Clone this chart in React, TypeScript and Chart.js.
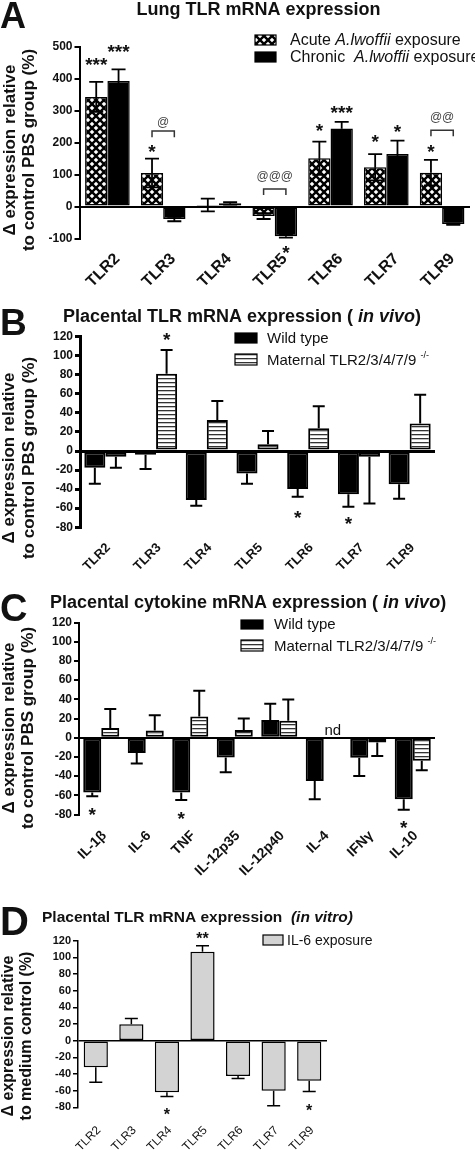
import React, { useEffect, useRef } from 'react';
import { Chart, registerables } from 'chart.js';

Chart.register(...registerables);

const FAMILY = '"Liberation Sans", Arial, Helvetica, sans-serif';
const f = (size: number, weight = 'normal', style = 'normal') => `${style} ${weight} ${size}px ${FAMILY}`;

// ---------- Panel A: Lung TLR mRNA expression ----------
const aLabels = ['TLR2', 'TLR3', 'TLR4', 'TLR5', 'TLR6', 'TLR7', 'TLR9'];
const aAcute = [343, 105, 5, -30, 151, 123, 106];
const aAcuteSem = [47, 45, 20, 9, 52, 41, 40];
const aChronic = [393, -39, 10, -93, 244, 164, -55];
const aChronicSem = [36, 7, 4, 4, 21, 42, 2];
const aYTicks = [-100, 0, 100, 200, 300, 400, 500];
const aStars = [
  { ds: 0, cat: 0, y: 458, t: '***' },
  { ds: 1, cat: 0, y: 499, t: '***' },
  { ds: 0, cat: 1, y: 186, t: '*' },
  { ds: 1, cat: 3, y: -130, t: '*' },
  { ds: 0, cat: 4, y: 252, t: '*' },
  { ds: 1, cat: 4, y: 308, t: '***' },
  { ds: 0, cat: 5, y: 217, t: '*' },
  { ds: 1, cat: 5, y: 249, t: '*' },
  { ds: 0, cat: 6, y: 186, t: '*' },
];
const aBrackets = [
  { cat: 1, y: 236, leg: 217, textY: 264, t: '@' },
  { cat: 3, y: 55, leg: 36, textY: 96, t: '@@@' },
  { cat: 6, y: 239, leg: 220, textY: 280, t: '@@' },
];

// ---------- Panel B: Placental TLR mRNA expression (in vivo) ----------
const bLabels = ['TLR2', 'TLR3', 'TLR4', 'TLR5', 'TLR6', 'TLR7', 'TLR9'];
const bWild = [-17.5, -4, -51.5, -23.5, -40, -45.5, -35];
const bWildSem = [17, 15, 6, 11, 8, 13, 15];
const bKO = [-6, 81, 32.5, 7, 24, -6, 29];
const bKOSem = [11.5, 25, 20, 14, 23, 49, 30];
const bYTicks = [-80, -60, -40, -20, 0, 20, 40, 60, 80, 100, 120];
const bStars = [
  { ds: 1, cat: 1, y: 122, t: '*' },
  { ds: 0, cat: 4, y: -65, t: '*' },
  { ds: 0, cat: 5, y: -72, t: '*' },
];

// ---------- Panel C: Placental cytokine mRNA expression (in vivo) ----------
const cLabels = ['IL-1β', 'IL-6', 'TNF', 'IL-12p35', 'IL-12p40', 'IL-4', 'IFNγ', 'IL-10'];
const cWild = [-57, -16, -57, -20.5, 18.4, -45, -21, -64];
const cWildSem = [4, 11, 8, 15.5, 17, 19, 19, 11];
const cKO: (number | null)[] = [10, 7.4, 22, 8, 17.7, null, -5, -24];
const cKOSem = [20, 16, 27, 12, 22, 0, 14, 10];
const cYTicks = [-80, -60, -40, -20, 0, 20, 40, 60, 80, 100, 120];
const cStars = [
  { ds: 0, cat: 0, y: -75, t: '*' },
  { ds: 0, cat: 2, y: -79.5, t: '*' },
  { ds: 0, cat: 7, y: -89, t: '*' },
];
const cNotes = [{ ds: 1, cat: 5, y: 8, t: 'nd' }];

// ---------- Panel D: Placental TLR mRNA expression (in vitro) ----------
const dLabels = ['TLR2', 'TLR3', 'TLR4', 'TLR5', 'TLR6', 'TLR7', 'TLR9'];
const dIL6 = [-32, 19.7, -62, 106.8, -42.4, -60, -48];
const dIL6Sem = [18, 7, 5, 7, 3, 18, 13];
const dYTicks = [-80, -60, -40, -20, 0, 20, 40, 60, 80, 100, 120];
const dStars = [
  { ds: 0, cat: 3, y: 127, t: '**' },
  { ds: 0, cat: 2, y: -84, t: '*' },
  { ds: 0, cat: 6, y: -80, t: '*' },
];

type Seg = { t: string; font: string; dy?: number };
type Series = { label: string; data: (number | null)[]; sem: number[]; fill: string };
type Note = { ds: number; cat: number; y: number; t: string };
type Bracket = { cat: number; y: number; leg: number; textY: number; t: string };
type LegendItem = { fill: string; box: [number, number, number, number]; x: number; y: number; segs: Seg[] };

interface PanelCfg {
  top: number;
  W: number;
  H: number;
  area: { left: number; top: number; right: number; bottom: number };
  labels: string[];
  yTicks: number[];
  series: Series[];
  errBoth: boolean;
  catPct: number;
  barPct: number;
  barBorder: number;
  axisWidth: number;
  errWidth: number;
  cap: number;
  tickFont: number;
  xSize: number;
  xWeight: string;
  xPad: number;
  xOffset: number;
  stars: Note[];
  starSize: number;
  notes: Note[];
  brackets: Bracket[];
  letter: { t: string; size: number; x: number; y: number };
  title: { segs: Seg[]; x: number; y: number; center: boolean };
  yTitle: { lines: string[]; xs: number[]; cy: number; size: number };
  legend: LegendItem[];
}

function makeCross(ctx: CanvasRenderingContext2D): CanvasPattern | string {
  const c = document.createElement('canvas');
  c.width = 8;
  c.height = 8;
  const g = c.getContext('2d');
  if (!g) return '#000';
  g.fillStyle = '#000';
  g.fillRect(0, 0, 8, 8);
  g.fillStyle = '#fff';
  const dia = (cx: number, cy: number, r: number) => {
    g.beginPath();
    g.moveTo(cx, cy - r);
    g.lineTo(cx + r, cy);
    g.lineTo(cx, cy + r);
    g.lineTo(cx - r, cy);
    g.closePath();
    g.fill();
  };
  [[4, 4], [0, 0], [8, 0], [0, 8], [8, 8]].forEach(([x, y]) => dia(x, y, 2.3));
  return ctx.createPattern(c, 'repeat') || '#000';
}

function makeStripes(ctx: CanvasRenderingContext2D): CanvasPattern | string {
  const c = document.createElement('canvas');
  c.width = 4;
  c.height = 4;
  const g = c.getContext('2d');
  if (!g) return '#fff';
  g.fillStyle = '#fff';
  g.fillRect(0, 0, 4, 4);
  g.fillStyle = '#333';
  g.fillRect(0, 0, 4, 1.3);
  return ctx.createPattern(c, 'repeat') || '#fff';
}

function drawSegs(ctx: CanvasRenderingContext2D, segs: Seg[], x: number, y: number, center: boolean) {
  const widths = segs.map((s) => {
    ctx.font = s.font;
    return ctx.measureText(s.t).width;
  });
  const total = widths.reduce((a, b) => a + b, 0);
  let cx = center ? x - total / 2 : x;
  ctx.textAlign = 'left';
  ctx.textBaseline = 'alphabetic';
  segs.forEach((s, i) => {
    ctx.font = s.font;
    ctx.fillText(s.t, cx, y + (s.dy || 0));
    cx += widths[i];
  });
}

function Panel({ cfg }: { cfg: PanelCfg }) {
  const ref = useRef<HTMLCanvasElement>(null);
  useEffect(() => {
    const canvas = ref.current;
    if (!canvas) return;
    const c2 = canvas.getContext('2d');
    if (!c2) return;
    const pats: Record<string, CanvasPattern | string> = {
      cross: makeCross(c2),
      stripes: makeStripes(c2),
    };
    const fillOf = (k: string) => (pats[k] !== undefined ? pats[k] : k);

    const plugin = {
      id: 'panelDecor',
      afterDatasetsDraw(chart: any) {
        const ctx: CanvasRenderingContext2D = chart.ctx;
        const ys = chart.scales.y;
        ctx.save();
        ctx.strokeStyle = '#000';
        ctx.lineWidth = cfg.errWidth;
        cfg.series.forEach((s, di) => {
          const meta = chart.getDatasetMeta(di);
          s.data.forEach((v, i) => {
            if (v === null || v === undefined) return;
            const sem = s.sem[i];
            const x = meta.data[i].x;
            const ends = cfg.errBoth ? [v + sem, v - sem] : [v >= 0 ? v + sem : v - sem];
            const p0 = ys.getPixelForValue(v);
            ends.forEach((e) => {
              const p1 = ys.getPixelForValue(e);
              ctx.beginPath();
              ctx.moveTo(x, p0);
              ctx.lineTo(x, p1);
              ctx.moveTo(x - cfg.cap / 2, p1);
              ctx.lineTo(x + cfg.cap / 2, p1);
              ctx.stroke();
            });
          });
        });
        ctx.restore();
      },
      afterDraw(chart: any) {
        const ctx: CanvasRenderingContext2D = chart.ctx;
        const ys = chart.scales.y;
        ctx.save();
        ctx.fillStyle = '#111';
        ctx.textAlign = 'center';
        ctx.textBaseline = 'alphabetic';
        cfg.stars.forEach((m) => {
          const x = chart.getDatasetMeta(m.ds).data[m.cat].x;
          ctx.font = f(cfg.starSize, 'bold');
          ctx.fillText(m.t, x, ys.getPixelForValue(m.y) + cfg.starSize * 0.57);
        });
        cfg.notes.forEach((m) => {
          const x = chart.getDatasetMeta(m.ds).data[m.cat].x;
          ctx.font = f(15);
          ctx.fillText(m.t, x, ys.getPixelForValue(m.y) + 5);
        });
        cfg.brackets.forEach((b) => {
          const x0 = chart.getDatasetMeta(0).data[b.cat].x;
          const x1 = chart.getDatasetMeta(1).data[b.cat].x;
          const py = ys.getPixelForValue(b.y);
          const pl = ys.getPixelForValue(b.leg);
          ctx.strokeStyle = '#333';
          ctx.lineWidth = 1.5;
          ctx.beginPath();
          ctx.moveTo(x0, pl);
          ctx.lineTo(x0, py);
          ctx.lineTo(x1, py);
          ctx.lineTo(x1, pl);
          ctx.stroke();
          ctx.fillStyle = '#444';
          ctx.font = f(12);
          ctx.textAlign = 'center';
          ctx.fillText(b.t, (x0 + x1) / 2, ys.getPixelForValue(b.textY) + 4);
          ctx.fillStyle = '#111';
        });
        ctx.font = f(cfg.letter.size, 'bold');
        ctx.textAlign = 'left';
        ctx.fillText(cfg.letter.t, cfg.letter.x, cfg.letter.y);
        drawSegs(ctx, cfg.title.segs, cfg.title.x, cfg.title.y, cfg.title.center);
        ctx.font = f(cfg.yTitle.size, 'bold');
        cfg.yTitle.lines.forEach((line, i) => {
          ctx.save();
          ctx.translate(cfg.yTitle.xs[i], cfg.yTitle.cy);
          ctx.rotate(-Math.PI / 2);
          ctx.textAlign = 'center';
          ctx.textBaseline = 'alphabetic';
          ctx.fillText(line, 0, 0);
          ctx.restore();
        });
        cfg.legend.forEach((it) => {
          const [bx, by, bw, bh] = it.box;
          ctx.fillStyle = fillOf(it.fill) as any;
          ctx.fillRect(bx, by, bw, bh);
          ctx.strokeStyle = '#000';
          ctx.lineWidth = 1.2;
          ctx.strokeRect(bx, by, bw, bh);
          ctx.fillStyle = '#111';
          drawSegs(ctx, it.segs, it.x, it.y, false);
        });
        ctx.restore();
      },
    };

    const { area, W, H } = cfg;
    const chart = new Chart(canvas, {
      type: 'bar',
      data: {
        labels: cfg.labels,
        datasets: cfg.series.map((s) => ({
          label: s.label,
          data: s.data,
          backgroundColor: fillOf(s.fill) as any,
          borderColor: '#000',
          borderWidth: cfg.barBorder,
          borderSkipped: false,
          categoryPercentage: cfg.catPct,
          barPercentage: cfg.barPct,
        })),
      },
      options: {
        responsive: false,
        animation: false,
        devicePixelRatio: 1,
        layout: { padding: { top: area.top, left: 0, right: W - area.right, bottom: 0 } },
        plugins: { legend: { display: false }, tooltip: { enabled: false }, title: { display: false } },
        scales: {
          x: {
            type: 'category',
            grid: { display: false, drawTicks: false },
            border: { display: false },
            ticks: {
              autoSkip: false,
              minRotation: 45,
              maxRotation: 45,
              padding: cfg.xPad,
              labelOffset: cfg.xOffset,
              color: '#111',
              font: { family: FAMILY, size: cfg.xSize, weight: cfg.xWeight as any },
            },
            afterFit: (s: any) => {
              s.height = H - area.bottom;
            },
          },
          y: {
            type: 'linear',
            min: cfg.yTicks[0],
            max: cfg.yTicks[cfg.yTicks.length - 1],
            afterBuildTicks: (s: any) => {
              s.ticks = cfg.yTicks.map((v) => ({ value: v }));
            },
            afterFit: (s: any) => {
              s.width = area.left;
            },
            border: { display: true, color: '#000', width: cfg.axisWidth },
            grid: {
              drawTicks: true,
              tickLength: 5,
              tickColor: '#000',
              tickWidth: cfg.axisWidth,
              color: (c: any) => (c.tick && c.tick.value === 0 ? '#000' : 'rgba(0,0,0,0)'),
              lineWidth: cfg.axisWidth,
            },
            ticks: {
              color: '#111',
              padding: 2,
              font: { family: FAMILY, size: cfg.tickFont, weight: 'bold' },
            },
          },
        },
      },
      plugins: [plugin],
    });
    return () => chart.destroy();
  }, []);
  return (
    <canvas
      ref={ref}
      width={cfg.W}
      height={cfg.H}
      style={{ position: 'absolute', left: 0, top: cfg.top, width: cfg.W, height: cfg.H, display: 'block' }}
    />
  );
}

const panelA: PanelCfg = {
  top: 0,
  W: 475,
  H: 290,
  area: { left: 79.5, top: 46.7, right: 470, bottom: 238.5 },
  labels: aLabels,
  yTicks: aYTicks,
  series: [
    { label: 'Acute A.lwoffii exposure', data: aAcute, sem: aAcuteSem, fill: 'cross' },
    { label: 'Chronic A.lwoffii exposure', data: aChronic, sem: aChronicSem, fill: '#000' },
  ],
  errBoth: true,
  catPct: 0.8,
  barPct: 1,
  barBorder: 1.5,
  axisWidth: 2,
  errWidth: 1.8,
  cap: 14,
  tickFont: 12,
  xSize: 16,
  xWeight: 'bold',
  xPad: 11,
  xOffset: 10,
  stars: aStars,
  starSize: 19,
  notes: [],
  brackets: aBrackets,
  letter: { t: 'A', size: 36, x: 0, y: 28 },
  title: { segs: [{ t: 'Lung TLR mRNA expression', font: f(18, 'bold') }], x: 258.5, y: 15, center: true },
  yTitle: { lines: ['Δ expression relative', 'to control PBS group (%)'], xs: [14.5, 34], cy: 150, size: 17 },
  legend: [
    {
      fill: 'cross',
      box: [255, 35, 21, 10],
      x: 290,
      y: 45,
      segs: [
        { t: 'Acute ', font: f(16) },
        { t: 'A.lwoffii', font: f(16, 'normal', 'italic') },
        { t: ' exposure', font: f(16) },
      ],
    },
    {
      fill: '#000',
      box: [255, 52, 21, 10],
      x: 290,
      y: 62,
      segs: [
        { t: 'Chronic  ', font: f(16) },
        { t: 'A.lwoffii', font: f(16, 'normal', 'italic') },
        { t: ' exposure', font: f(16) },
      ],
    },
  ],
};

const panelB: PanelCfg = {
  top: 290,
  W: 475,
  H: 282,
  area: { left: 80, top: 46.7, right: 435, bottom: 237.2 },
  labels: bLabels,
  yTicks: bYTicks,
  series: [
    { label: 'Wild type', data: bWild, sem: bWildSem, fill: '#000' },
    { label: 'Maternal TLR2/3/4/7/9 -/-', data: bKO, sem: bKOSem, fill: 'stripes' },
  ],
  errBoth: false,
  catPct: 0.83,
  barPct: 1,
  barBorder: 2,
  axisWidth: 3,
  errWidth: 2,
  cap: 12,
  tickFont: 12,
  xSize: 13,
  xWeight: 'bold',
  xPad: 13,
  xOffset: 3,
  stars: bStars,
  starSize: 19,
  notes: [],
  brackets: [],
  letter: { t: 'B', size: 37, x: 0, y: 45 },
  title: {
    segs: [
      { t: 'Placental TLR mRNA expression ( ', font: f(18, 'bold') },
      { t: 'in vivo', font: f(18, 'bold', 'italic') },
      { t: ')', font: f(18, 'bold') },
    ],
    x: 63,
    y: 32,
    center: false,
  },
  yTitle: { lines: ['Δ expression relative', 'to control PBS group (%)'], xs: [13.5, 34], cy: 168, size: 17 },
  legend: [
    { fill: '#000', box: [235, 43, 22, 10], x: 267, y: 53.3, segs: [{ t: 'Wild type', font: f(15) }] },
    {
      fill: 'stripes',
      box: [235, 64, 22, 11],
      x: 267,
      y: 75,
      segs: [
        { t: 'Maternal TLR2/3/4/7/9 ', font: f(15) },
        { t: '-/-', font: f(9), dy: -7 },
      ],
    },
  ],
};

const panelC: PanelCfg = {
  top: 572,
  W: 475,
  H: 318,
  area: { left: 79, top: 50.5, right: 435, bottom: 242.5 },
  labels: cLabels,
  yTicks: cYTicks,
  series: [
    { label: 'Wild type', data: cWild, sem: cWildSem, fill: '#000' },
    { label: 'Maternal TLR2/3/4/7/9 -/-', data: cKO, sem: cKOSem, fill: 'stripes' },
  ],
  errBoth: false,
  catPct: 0.81,
  barPct: 1,
  barBorder: 2,
  axisWidth: 2,
  errWidth: 2,
  cap: 12,
  tickFont: 12,
  xSize: 14,
  xWeight: 'bold',
  xPad: 13,
  xOffset: 3,
  stars: cStars,
  starSize: 19,
  notes: cNotes,
  brackets: [],
  letter: { t: 'C', size: 38, x: 0, y: 49 },
  title: {
    segs: [
      { t: 'Placental cytokine mRNA expression ( ', font: f(18, 'bold') },
      { t: 'in vivo', font: f(18, 'bold', 'italic') },
      { t: ')', font: f(18, 'bold') },
    ],
    x: 50,
    y: 36,
    center: false,
  },
  yTitle: { lines: ['Δ expression relative', 'to control PBS group (%)'], xs: [13.5, 33], cy: 156, size: 17 },
  legend: [
    { fill: '#000', box: [241, 48, 22, 9], x: 274, y: 57, segs: [{ t: 'Wild type', font: f(15) }] },
    {
      fill: 'stripes',
      box: [241, 68, 22, 11],
      x: 274,
      y: 79,
      segs: [
        { t: 'Maternal TLR2/3/4/7/9 ', font: f(15) },
        { t: '-/-', font: f(9), dy: -7 },
      ],
    },
  ],
};

const panelD: PanelCfg = {
  top: 890,
  W: 475,
  H: 260,
  area: { left: 78, top: 50.7, right: 327, bottom: 217.3 },
  labels: dLabels,
  yTicks: dYTicks,
  series: [{ label: 'IL-6 exposure', data: dIL6, sem: dIL6Sem, fill: '#d3d3d3' }],
  errBoth: false,
  catPct: 0.68,
  barPct: 1,
  barBorder: 1.5,
  axisWidth: 1.5,
  errWidth: 1.5,
  cap: 13,
  tickFont: 11,
  xSize: 12,
  xWeight: 'normal',
  xPad: 16,
  xOffset: 3,
  stars: dStars,
  starSize: 16,
  notes: [],
  brackets: [],
  letter: { t: 'D', size: 40, x: 0, y: 45 },
  title: {
    segs: [
      { t: 'Placental TLR mRNA expression  ', font: f(15.5, 'bold') },
      { t: '(in vitro)', font: f(15.5, 'bold', 'italic') },
    ],
    x: 42,
    y: 32,
    center: false,
  },
  yTitle: { lines: ['Δ expression relative', 'to medium control (%)'], xs: [13, 31], cy: 146, size: 16 },
  legend: [{ fill: '#d3d3d3', box: [263, 45, 20, 10], x: 287, y: 55, segs: [{ t: 'IL-6 exposure', font: f(14) }] }],
};

export default function App() {
  return (
    <div style={{ position: 'absolute', left: 0, top: 0, width: 475, height: 1150, background: '#fff', overflow: 'hidden' }}>
      <Panel cfg={panelA} />
      <Panel cfg={panelB} />
      <Panel cfg={panelC} />
      <Panel cfg={panelD} />
    </div>
  );
}
